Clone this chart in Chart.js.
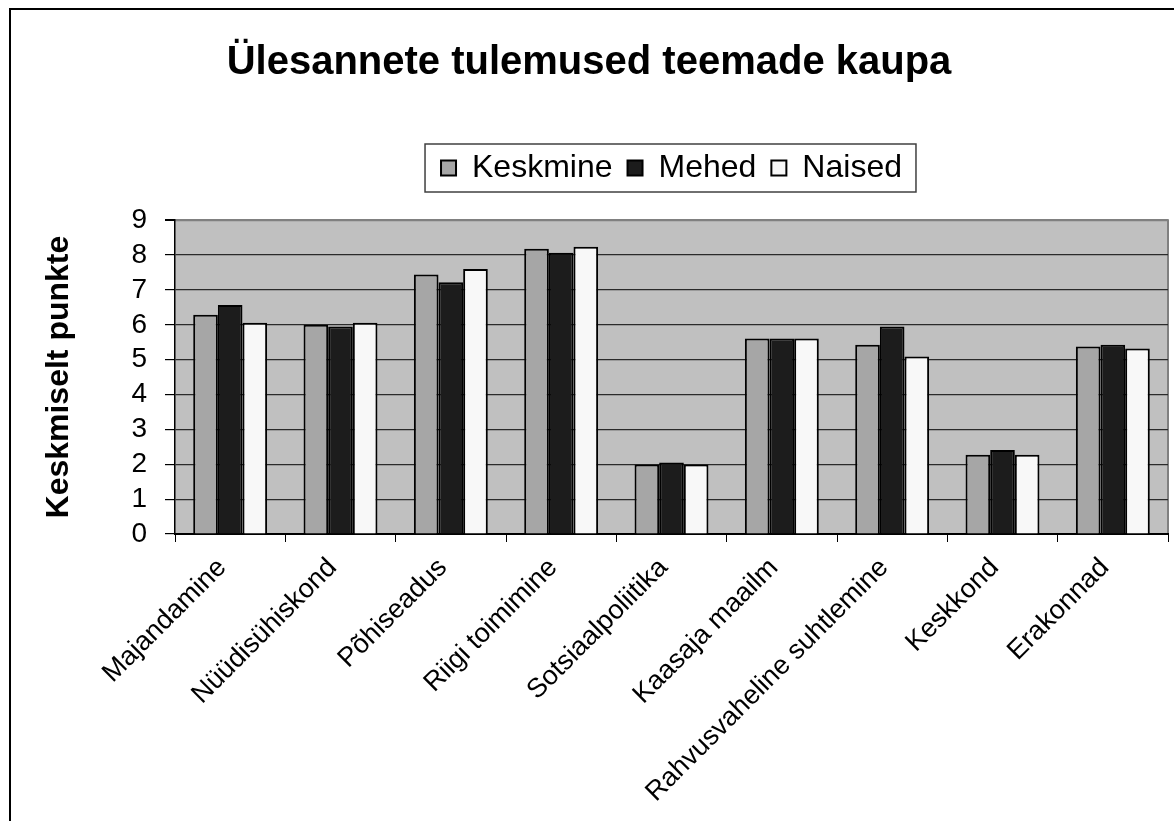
<!DOCTYPE html>
<html>
<head>
<meta charset="utf-8">
<script src="https://cdn.jsdelivr.net/npm/chart.js@4"></script>
<style>
  body { margin: 0; background: #fff; }
  #wrap { width: 1174px; height: 821px; }
</style>
</head>
<body>
<div id="wrap"><canvas id="graph" width="1174" height="821"></canvas></div>
<script>
const categories = ['Majandamine', 'Nüüdisühiskond', 'Põhiseadus', 'Riigi toimimine', 'Sotsiaalpoliitika',
    'Kaasaja maailm', 'Rahvusvaheline suhtlemine', 'Keskkond', 'Erakonnad'];
const keskmine = [6.29, 6.00, 7.44, 8.18, 1.99, 5.61, 5.43, 2.27, 5.38];
const mehed = [6.57, 5.95, 7.22, 8.07, 2.05, 5.61, 5.95, 2.41, 5.43];
const naised = [6.06, 6.06, 7.60, 8.24, 1.99, 5.61, 5.09, 2.27, 5.32];
const yTicks = [0, 1, 2, 3, 4, 5, 6, 7, 8, 9];

const font = "Arial, 'Liberation Sans', sans-serif";
Chart.defaults.font.family = font;
Chart.defaults.color = '#000';

// gray plot area, frame round the page, box round the legend
const plotFrame = {
    id: 'plotFrame',
    beforeDraw: (chart) => {
        const {ctx, chartArea: a} = chart;
        ctx.save();
        ctx.fillStyle = '#c0c0c0';
        ctx.fillRect(a.left, a.top, a.right - a.left, a.bottom - a.top);
        ctx.strokeStyle = '#808080';
        ctx.lineWidth = 2;
        ctx.beginPath();
        ctx.moveTo(a.left, a.top);
        ctx.lineTo(a.right, a.top);
        ctx.lineTo(a.right, a.bottom);
        ctx.stroke();
        ctx.strokeStyle = '#000';
        ctx.lineWidth = 2;
        ctx.beginPath();
        ctx.moveTo(10, 900);
        ctx.lineTo(10, 9);
        ctx.lineTo(1300, 9);
        ctx.stroke();
        ctx.restore();
    },
    afterDraw: (chart) => {
        const boxes = chart.legend.legendHitBoxes;
        if (!boxes || !boxes.length) return;
        const first = boxes[0];
        const last = boxes[boxes.length - 1];
        const mid = first.top + first.height / 2;
        const {ctx} = chart;
        ctx.save();
        ctx.strokeStyle = '#404040';
        ctx.lineWidth = 1.5;
        ctx.strokeRect(first.left - 16, mid - 24, last.left + last.width - first.left + 30, 48);
        ctx.restore();
    }
};

const data = {
    labels: categories,
    datasets: [
        { label: 'Keskmine', data: keskmine, backgroundColor: '#a6a6a6', borderColor: '#000', borderWidth: 2 },
        { label: 'Mehed', data: mehed, backgroundColor: '#1c1c1c', borderColor: '#000', borderWidth: 2 },
        { label: 'Naised', data: naised, backgroundColor: '#f8f8f8', borderColor: '#000', borderWidth: 2 }
    ]
};

const chart = new Chart(document.getElementById('graph'), {
    type: 'bar',
    data: data,
    options: {
        responsive: false,
        animation: false,
        layout: { padding: { left: 10, right: 6, top: 0, bottom: 0 } },
        datasets: { bar: { categoryPercentage: 0.67, barPercentage: 1.0 } },
        plugins: {
            title: {
                display: true,
                text: 'Ülesannete tulemused teemade kaupa',
                font: { size: 40, weight: 'bold' },
                color: '#000',
                padding: { top: 39, bottom: 50 }
            },
            subtitle: {
                display: true,
                text: '',
                weight: 500,
                font: { size: 1 },
                padding: { top: 25, bottom: 0 }
            },
            legend: {
                position: 'top',
                fullSize: false,
                labels: {
                    font: { size: 32 },
                    boxWidth: 15,
                    boxHeight: 15,
                    padding: 15,
                    color: '#000'
                }
            },
            tooltip: { enabled: false }
        },
        scales: {
            x: {
                offset: true,
                grid: {
                    offset: true,
                    drawOnChartArea: false,
                    drawTicks: true,
                    tickLength: 8,
                    tickColor: '#000'
                },
                border: { color: '#000', width: 2 },
                ticks: {
                    font: { size: 27 },
                    color: '#000',
                    maxRotation: 45,
                    minRotation: 45,
                    padding: 10,
                    labelOffset: -8,
                    autoSkip: false
                },
                afterFit: (scale) => { scale.height = 287; }
            },
            y: {
                min: 0,
                max: 9,
                afterBuildTicks: (scale) => { scale.ticks = yTicks.map(v => ({ value: v })); },
                grid: {
                    color: (c) => c.tick && c.tick.value === 9 ? '#808080' : '#2a2a2a',
                    lineWidth: (c) => c.tick && c.tick.value === 9 ? 2 : 1.2,
                    tickColor: '#000',
                    tickLength: 10
                },
                border: { color: '#000', width: 1.5 },
                ticks: {
                    font: { size: 28 },
                    color: '#000',
                    padding: 18,
                    autoSkip: false
                },
                title: {
                    display: true,
                    text: 'Keskmiselt punkte',
                    font: { size: 32, weight: 'bold' },
                    color: '#000',
                    padding: { top: 30, bottom: 0 }
                },
                afterFit: (scale) => { scale.width = 165; }
            }
        }
    },
    plugins: [plotFrame]
});
</script>
</body>
</html>
